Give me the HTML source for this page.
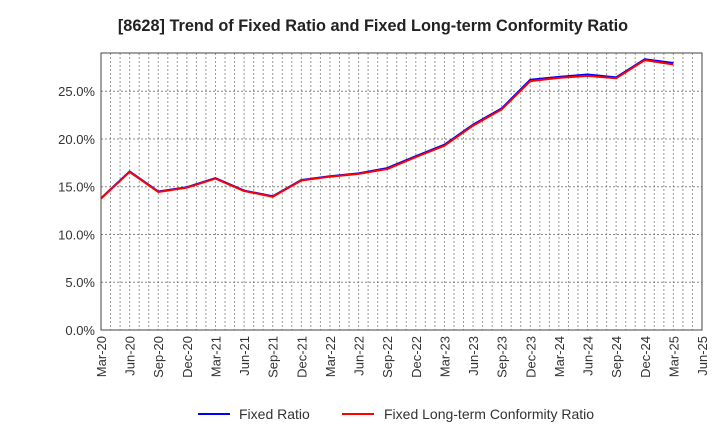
<!DOCTYPE html>
<html><head><meta charset="utf-8"><style>
body{margin:0;background:#fff;font-family:"Liberation Sans",sans-serif}
svg text{font-family:"Liberation Sans",sans-serif}
</style></head><body>
<svg id="chart" width="720" height="440" xmlns="http://www.w3.org/2000/svg">
<text x="373" y="31" text-anchor="middle" font-size="16.3" font-weight="bold" fill="#222">[8628]  Trend of Fixed Ratio and Fixed Long-term Conformity Ratio</text>
<g id="grid"></g>
<g id="yaxis"></g>
<g id="xaxis"></g>
<g id="series"></g>
<rect x="101" y="53" width="601" height="277" fill="none" stroke="#444" stroke-width="1"/>
<g>
<line x1="198" y1="414" x2="230" y2="414" stroke="#0000ff" stroke-width="2"/>
<text x="239" y="419" font-size="14" fill="#333">Fixed Ratio</text>
<line x1="342" y1="414" x2="374" y2="414" stroke="#ff0000" stroke-width="2"/>
<text x="384" y="419" font-size="14" fill="#333">Fixed Long-term Conformity Ratio</text>
</g>
</svg>
<script>
const xLabels=["Mar-20","Jun-20","Sep-20","Dec-20","Mar-21","Jun-21","Sep-21","Dec-21","Mar-22","Jun-22","Sep-22","Dec-22","Mar-23","Jun-23","Sep-23","Dec-23","Mar-24","Jun-24","Sep-24","Dec-24","Mar-25","Jun-25"];
const yTicks=[0,5,10,15,20,25];
const fixedRatio=[13.8,16.6,14.5,14.95,15.9,14.6,14.0,15.7,16.1,16.4,16.95,18.2,19.4,21.5,23.2,26.2,26.5,26.75,26.45,28.35,27.95];
const conformityRatio=[13.75,16.55,14.45,14.9,15.85,14.55,13.95,15.65,16.05,16.35,16.85,18.1,19.3,21.4,23.1,26.05,26.4,26.6,26.35,28.25,27.8];
const X0=101,X1=702,Y0=330,YTOP=53,YMAX=29;
const NS="http://www.w3.org/2000/svg";
const step=(X1-X0)/(xLabels.length-1);
const xs=i=>X0+i*step;
const ys=v=>Y0-v/YMAX*(Y0-YTOP);
function mk(t,a,p){const e=document.createElementNS(NS,t);for(const k in a)e.setAttribute(k,a[k]);p.appendChild(e);return e;}
const grid=document.getElementById('grid'),ya=document.getElementById('yaxis'),xa=document.getElementById('xaxis'),se=document.getElementById('series');
for(let m=0;m<(xLabels.length-1)*3;m++){const x=X0+m*step/3;if(m===0)continue;
 const l=mk('line',{x1:x,x2:x,y1:YTOP,y2:Y0,stroke:'#999','stroke-dasharray':'2,2','stroke-width':1},grid);
 }
yTicks.forEach(v=>{const y=ys(v);
 const l=mk('line',{x1:X0,x2:X1,y1:y,y2:y,stroke:'#888','stroke-dasharray':'2,2','stroke-width':1},grid);
 
 const t=mk('text',{x:X0-6,y:y+5,'text-anchor':'end','font-size':13,fill:'#333'},ya);t.textContent=v.toFixed(1)+'%';
 });
xLabels.forEach((s,i)=>{const x=xs(i);
 const t=mk('text',{x:0,y:0,'text-anchor':'end','font-size':13,fill:'#333',transform:`translate(${x+5},${Y0+6}) rotate(-90)`},xa);t.textContent=s;
 });
function line(d,c,n){const p=mk('polyline',{points:d.map((v,i)=>xs(i)+','+ys(v)).join(' '),fill:'none',stroke:c,'stroke-width':2,'stroke-linejoin':'round'},se);
 }
line(fixedRatio,'#0000ff','fixed-ratio-line');
line(conformityRatio,'#ff0000','conformity-ratio-line');
</script>
</body></html>
